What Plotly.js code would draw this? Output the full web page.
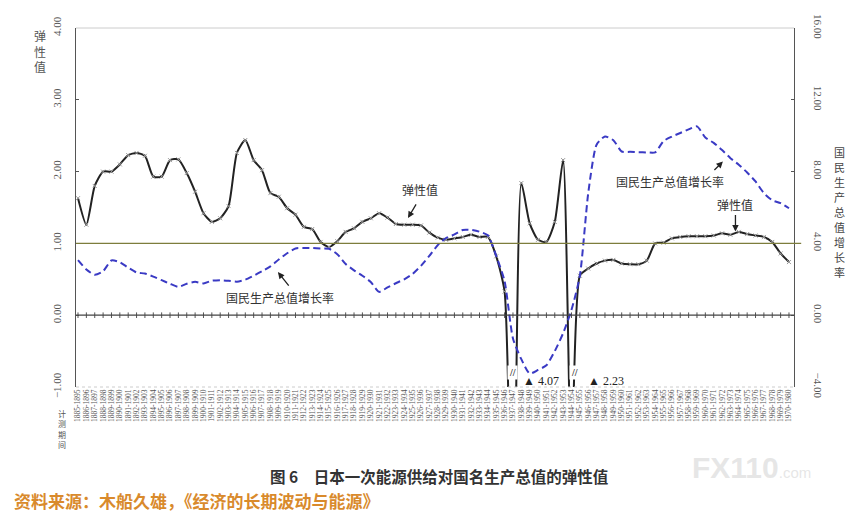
<!DOCTYPE html>
<html>
<head>
<meta charset="utf-8">
<script src="https://cdn.plot.ly/plotly-3.0.1.min.js"></script>
<style>html,body{margin:0;padding:0;background:#fff;}#chart{width:846px;height:516px;}</style>
</head>
<body>
<div id="chart"></div>
<script>
// categories: measurement periods
const periods = [];
for (let y = 1885; y <= 1970; y++) periods.push(y + '-' + (y + 10));

// elasticity value (left axis)
const elasticity = [
  1.63,1.26,1.80,2.00,2.00,2.10,2.23,2.26,2.22,1.93,
  1.93,2.16,2.17,1.98,1.72,1.42,1.30,1.35,1.52,2.26,
  2.44,2.16,2.02,1.70,1.65,1.49,1.40,1.23,1.20,1.02,
  0.95,1.03,1.16,1.21,1.30,1.35,1.42,1.36,1.27,1.26,
  1.26,1.25,1.15,1.08,1.05,1.07,1.09,1.12,1.09,1.09,
  0.82,0.33,-4.07,1.84,1.28,1.05,1.02,1.30,2.16,-2.23,
  0.55,0.65,0.72,0.76,0.77,0.72,0.71,0.71,0.76,1.00,
  1.01,1.07,1.09,1.10,1.10,1.10,1.11,1.14,1.12,1.16,
  1.13,1.11,1.09,1.02,0.86,0.74
];

// GNP growth rate (right axis, %)
const gnpGrowth = [
  3.07,2.55,2.25,2.45,3.05,2.95,2.65,2.38,2.32,2.15,
  1.95,1.75,1.58,1.75,1.86,1.77,1.92,1.95,1.92,1.87,
  1.98,2.20,2.45,2.72,3.10,3.45,3.72,3.74,3.74,3.72,
  3.70,3.40,2.85,2.50,2.20,1.85,1.30,1.55,1.78,2.00,
  2.30,2.75,3.30,3.90,4.30,4.50,4.75,4.75,4.65,4.45,
  3.30,1.90,-1.30,-2.45,-3.25,-3.05,-2.79,-2.00,-1.00,0.30,
  2.20,6.80,9.50,9.96,9.75,9.12,9.10,9.08,9.07,9.07,
  9.70,9.95,10.15,10.35,10.52,9.90,9.60,9.20,8.75,8.38,
  7.95,7.45,6.80,6.40,6.24,5.96
];

const leftTicks = [-1, 0, 1, 2, 3, 4];
const rightTicks = [-4, 0, 4, 8, 12, 16];
const rightTitleChars = ['国','民','生','产','总','值','增','长','率'];

const serif = 'Liberation Serif, DejaVu Serif, serif';
const cjk = 'Noto Sans CJK SC, sans-serif';

const traces = [
  {
    x: periods, y: periods.map(() => 0), type: 'scatter', mode: 'markers',
    marker: {symbol: 'line-ns', size: 4, line: {color: '#555', width: 1}},
    hoverinfo: 'skip', showlegend: false
  },
  {
    x: periods, y: gnpGrowth, yaxis: 'y2', type: 'scatter', mode: 'lines',
    line: {color: '#3a3ac4', width: 2, dash: '7px,4px', shape: 'spline', smoothing: 0.6},
    name: '国民生产总值增长率', showlegend: false
  },
  {
    x: periods, y: elasticity, type: 'scatter', mode: 'lines+markers',
    line: {color: '#222', width: 2, shape: 'spline', smoothing: 0.6},
    marker: {symbol: 'x-thin', size: 4, line: {color: '#999', width: 1}},
    name: '弹性值', showlegend: false
  }
];

function arrow(x, y, ax, ay) {
  return {x: x, y: y, xref: 'x', yref: 'y', ax: ax, ay: ay, text: '', showarrow: true,
    arrowhead: 2, arrowsize: 1, arrowwidth: 1.3, arrowcolor: '#222'};
}
function label(x, y, text, size) {
  return {x: x, y: y, xref: 'x', yref: 'y', text: text, showarrow: false,
    font: {family: cjk, size: size || 12, color: '#333'}};
}
function paperText(x, y, text, font, xanchor) {
  return {x: x, y: y, xref: 'paper', yref: 'paper', text: text, showarrow: false,
    xanchor: xanchor || 'center', yanchor: 'middle', font: font};
}

const annotations = [
  paperText(-0.05, 0.935, '弹<br>性<br>值', {family: cjk, size: 12, color: '#555'}),
  paperText(-0.019, -0.118, '计<br>测<br>期<br>间', {family: cjk, size: 8, color: '#555'}),
  label(40.9, 1.75, '弹性值'),
  arrow(39.45, 1.355, 9, -15),
  label(24.1, 0.25, '国民生产总值增长率'),
  arrow(23.9, 0.60, 12, 15),
  label(70.8, 1.86, '国民生产总值增长率'),
  arrow(77.1, 2.14, -10, 10),
  label(78.5, 1.54, '弹性值'),
  arrow(78.6, 1.165, 0, -18),
  {x: 55.3, y: -0.92, xref: 'x', yref: 'y', text: '▲ 4.07', showarrow: false,
   font: {family: serif, size: 12, color: '#222'}},
  {x: 63.1, y: -0.92, xref: 'x', yref: 'y', text: '▲ 2.23', showarrow: false,
   font: {family: serif, size: 12, color: '#222'}},
  {x: 52.0, y: -0.80, xref: 'x', yref: 'y', text: '<b>//</b>', showarrow: false, bgcolor: '#fff',
   font: {family: serif, size: 10, color: '#333'}},
  {x: 59.3, y: -0.80, xref: 'x', yref: 'y', text: '<b>//</b>', showarrow: false, bgcolor: '#fff',
   font: {family: serif, size: 10, color: '#333'}},
  paperText(0.505, -0.248, '<b>图 6　日本一次能源供给对国名生产总值的弹性值</b>', {family: cjk, size: 15.5, color: '#333'}),
  paperText(-0.089, -0.315, '<b>资料来源：木船久雄，《经济的长期波动与能源》</b>', {family: cjk, size: 17, color: '#d98a2c'}, 'left'),
  paperText(0.9415, -0.225, '<b>FX110</b><span style="font-size:15px">.com</span>', {family: 'Liberation Sans, sans-serif', size: 30, color: 'rgba(205,205,205,0.5)'})
];

// right-axis title, one character per line (stacked vertically)
rightTitleChars.forEach((ch, k) => {
  const py = 152 + k * 15;
  annotations.push(paperText(1.063, 1 - (py - 28) / 359, ch, {family: cjk, size: 11, color: '#444'}));
});

const shapes = [
  {type: 'line', xref: 'paper', yref: 'paper', x0: 0, x1: 1, y0: 1, y1: 1, line: {color: '#ccc', width: 1}},
  {type: 'line', xref: 'paper', yref: 'paper', x0: 0, x1: 1, y0: 0, y1: 0, line: {color: '#ccc', width: 1, dash: 'dot'}},
  {type: 'line', xref: 'paper', yref: 'y', x0: 0, x1: 1.01, y0: 1, y1: 1, line: {color: '#7d7d3c', width: 1.3}},
  {type: 'line', xref: 'paper', yref: 'y', x0: 0, x1: 1, y0: 0, y1: 0, line: {color: '#444', width: 1.2}}
];

const layout = {
  width: 846, height: 516,
  margin: {l: 76, r: 52, t: 28, b: 129},
  paper_bgcolor: '#fff', plot_bgcolor: '#fff',
  showlegend: false,
  xaxis: {
    type: 'category', range: [-0.24, 85.6], tickangle: -90,
    tickmode: 'array', tickvals: periods, ticktext: periods,
    tickfont: {family: serif, size: 7.5, color: '#555'},
    showgrid: false, zeroline: false, showline: false, ticks: '', automargin: false
  },
  yaxis: {
    range: [-1, 4], tickvals: leftTicks, tickformat: '.2f', tickangle: -90,
    tickfont: {family: serif, size: 11, color: '#555'}, ticklabelstandoff: 9,
    showgrid: false, zeroline: false, showline: true, linecolor: '#555', linewidth: 1.2,
    ticks: 'inside', ticklen: 3, tickcolor: '#555', automargin: false
  },
  yaxis2: {
    range: [-4, 16], tickvals: rightTicks, tickformat: '.2f', tickangle: 90,
    overlaying: 'y', side: 'right', anchor: 'x',
    tickfont: {family: serif, size: 11, color: '#555'}, ticklabelstandoff: 14,
    showgrid: false, zeroline: false, showline: true, linecolor: '#555', linewidth: 1.2,
    ticks: 'inside', ticklen: 3, tickcolor: '#555', automargin: false
  },
  annotations: annotations,
  shapes: shapes
};

Plotly.newPlot('chart', traces, layout, {displayModeBar: false, staticPlot: true});
</script>
</body>
</html>
